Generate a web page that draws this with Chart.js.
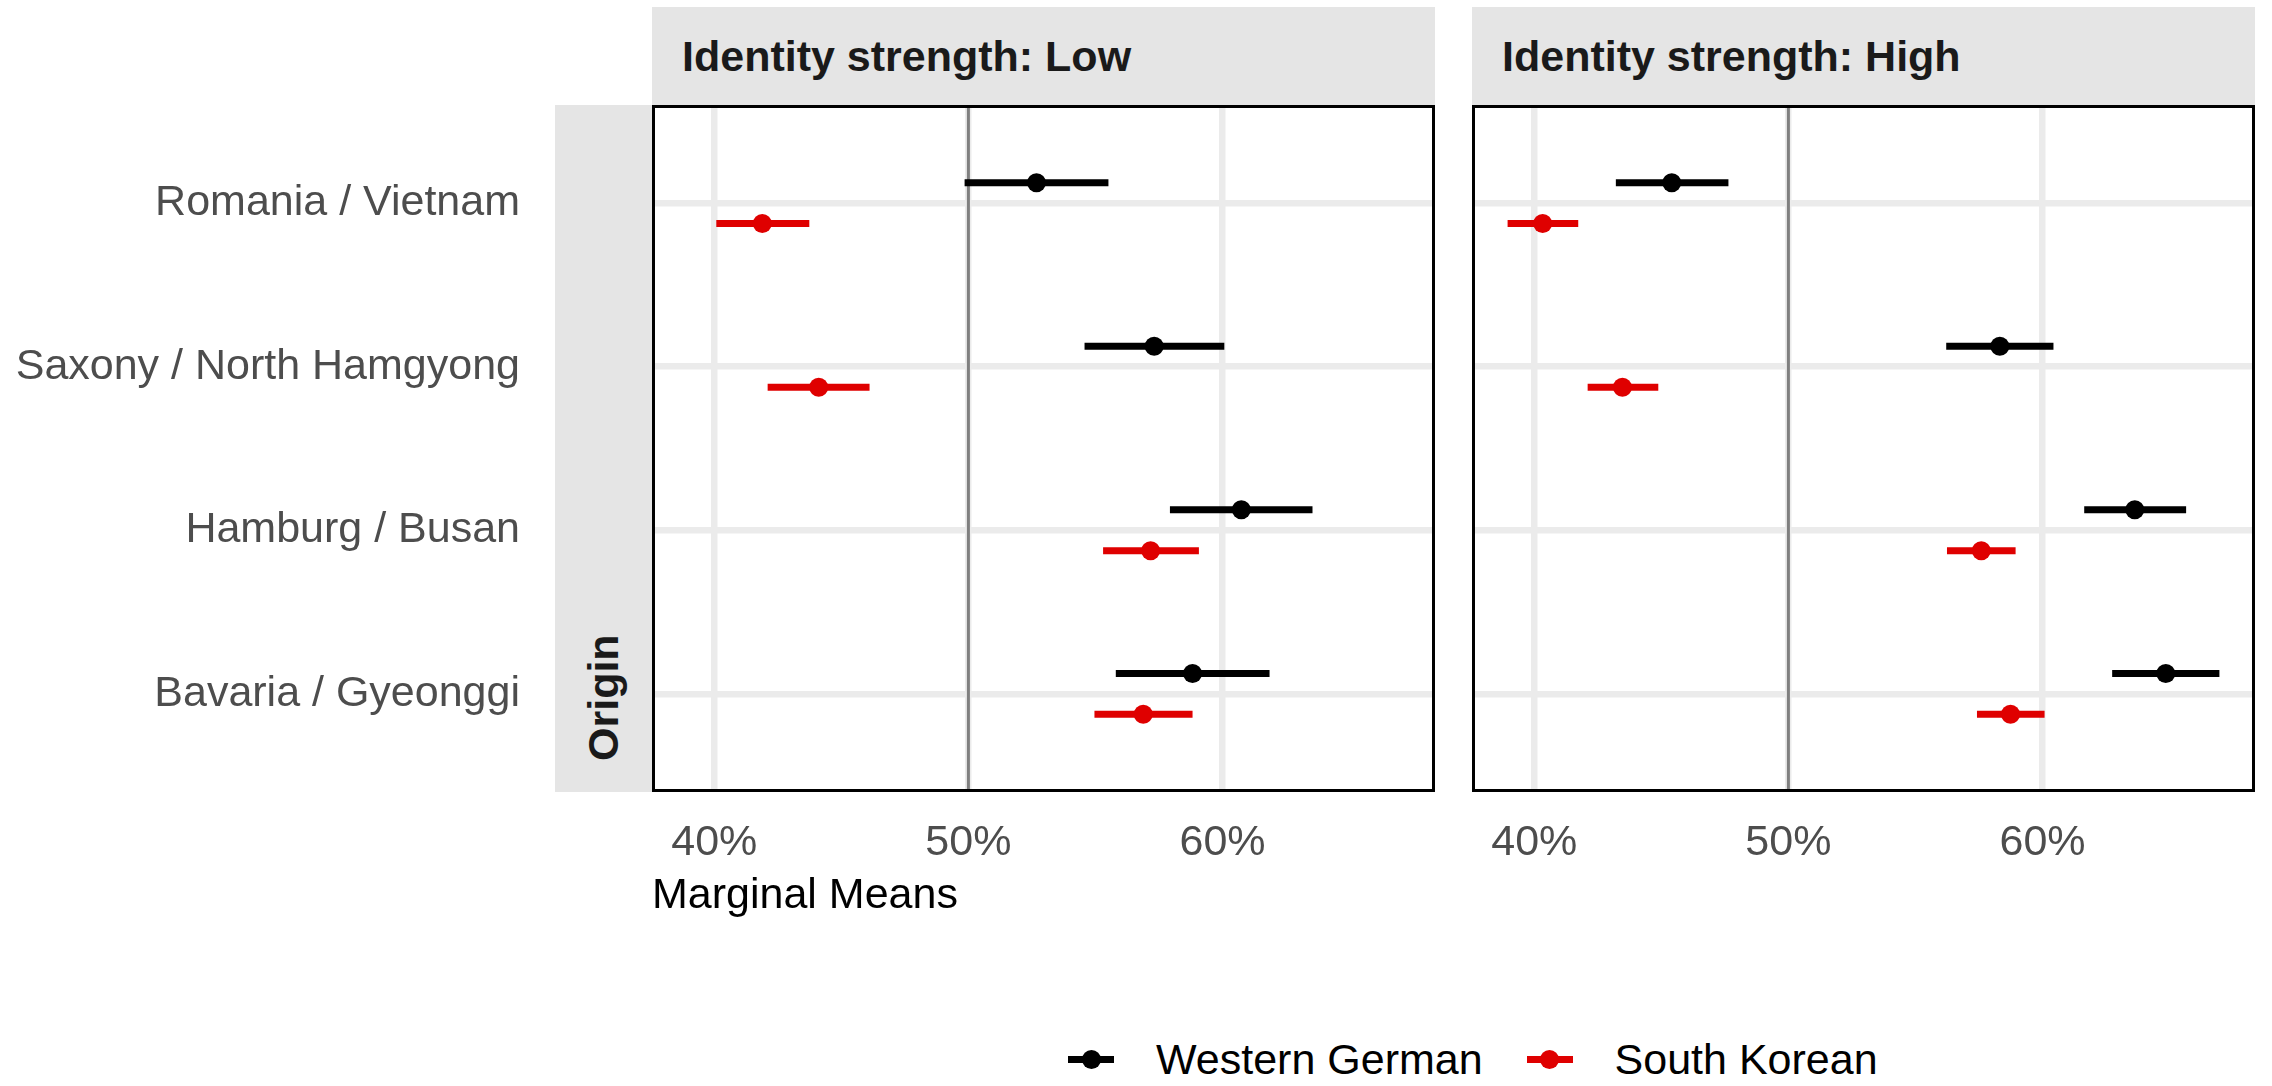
<!DOCTYPE html>
<html lang="en">
<head>
    <meta charset="UTF-8">
    <title>Marginal Means by Origin</title>
    <script src="https://cdn.jsdelivr.net/npm/chart.js@4.4.1/dist/chart.umd.min.js"></script>
    <style>
        * {
            margin: 0;
            padding: 0;
            box-sizing: border-box;
        }

        body {
            width: 2272px;
            height: 1086px;
            background: #fff;
            position: relative;
            overflow: hidden;
            font-family: 'Liberation Sans', Arial, sans-serif;
        }

        canvas {
            position: absolute;
            top: 105px;
        }

        #lowChart { left: 0; }
        #highChart { left: 1440px; }

        .strip {
            position: absolute;
            top: 7px;
            width: 783px;
            height: 98px;
            background: #e5e5e5;
            color: #1a1a1a;
            font-weight: bold;
            font-size: 43px;
            display: flex;
            align-items: center;
            padding-left: 30px;
        }

        .origin {
            position: absolute;
            left: 555px;
            top: 105px;
            width: 97px;
            height: 687px;
            background: #e5e5e5;
            color: #1a1a1a;
            font-weight: bold;
            font-size: 43px;
            writing-mode: vertical-rl;
            transform: rotate(180deg);
            display: flex;
            align-items: center;
            justify-content: flex-start;
            padding-top: 31px;
        }

        .legend {
            position: absolute;
            left: 1068px;
            top: 1034px;
            height: 50px;
            display: flex;
            align-items: center;
            font-size: 43px;
            color: #000;
        }

        .legend .key {
            position: relative;
            width: 46px;
            height: 19px;
            margin-right: 42px;
        }

        .legend .key::before {
            content: '';
            position: absolute;
            left: 0;
            right: 0;
            top: 6px;
            height: 7px;
            background: var(--c);
        }

        .legend .key::after {
            content: '';
            position: absolute;
            left: 13.5px;
            top: 0;
            width: 19px;
            height: 19px;
            border-radius: 50%;
            background: var(--c);
        }

        .legend .item {
            display: flex;
            align-items: center;
            margin-right: 44px;
        }
    </style>
</head>
<body>
    <div class="strip" style="left: 652px;">Identity strength: Low</div>
    <div class="strip" style="left: 1472px;">Identity strength: High</div>
    <div class="origin">Origin</div>

    <canvas id="lowChart" width="1440" height="827" style="width:1440px;height:827px"></canvas>
    <canvas id="highChart" width="832" height="827" style="width:832px;height:827px"></canvas>

    <div class="legend">
        <div class="item"><span class="key" style="--c:#000"></span><span>Western German</span></div>
        <div class="item"><span class="key" style="--c:#df0000"></span><span>South Korean</span></div>
    </div>

    <script>
        // Categories, top to bottom
        const origins = ['Romania / Vietnam', 'Saxony / North Hamgyong', 'Hamburg / Busan', 'Bavaria / Gyeonggi'];
        const xTicks = [40, 50, 60];
        const refValue = 50;

        // Identity strength: Low
        const lowWestEst = [52.68, 57.31, 60.74, 58.82];
        const lowWestLo  = [49.85, 54.57, 57.93, 55.80];
        const lowWestHi  = [55.51, 60.07, 63.54, 61.85];
        const lowKorEst  = [41.89, 44.11, 57.17, 56.88];
        const lowKorLo   = [40.08, 42.10, 55.30, 54.96];
        const lowKorHi   = [43.74, 46.11, 59.07, 58.82];

        // Identity strength: High
        const highWestEst = [45.41, 58.32, 63.63, 64.85];
        const highWestLo  = [43.21, 56.21, 61.64, 62.74];
        const highWestHi  = [47.64, 60.43, 65.65, 66.96];
        const highKorEst  = [40.33, 43.47, 57.59, 58.74];
        const highKorLo   = [38.95, 42.10, 56.24, 57.42];
        const highKorHi   = [41.73, 44.88, 58.94, 60.08];

        const FONT = "'Liberation Sans', Arial, sans-serif";
        const RED = '#df0000';
        const DODGE = 0.125;

        // x limits like ggplot: data range plus 5% each side
        const allVals = [].concat(lowWestLo, lowWestHi, lowKorLo, lowKorHi, highWestLo, highWestHi, highKorLo, highKorHi);
        const dMin = Math.min(...allVals), dMax = Math.max(...allVals);
        const xMin = dMin - 0.05 * (dMax - dMin);
        const xMax = dMax + 0.05 * (dMax - dMin);
        const yMin = 0.4, yMax = origins.length + 0.6;

        const rowPos = i => origins.length - i;

        function seriesSets(est, lo, hi, color, dodge) {
            const bars = [];
            origins.forEach((o, i) => {
                const y = rowPos(i) + dodge;
                bars.push({x: lo[i], y: y}, {x: hi[i], y: y}, {x: hi[i], y: null});
            });
            return [
                {type: 'line', data: bars, borderColor: color, borderWidth: 7, pointRadius: 0, spanGaps: false, order: 2},
                {type: 'scatter', data: est.map((v, i) => ({x: v, y: rowPos(i) + dodge})),
                 backgroundColor: color, borderWidth: 0, pointRadius: 9.5, order: 1}
            ];
        }

        // panel border on top of everything
        const panelBorder = {
            id: 'panelBorder',
            afterDraw(chart) {
                const a = chart.chartArea, ctx = chart.ctx;
                ctx.save();
                ctx.strokeStyle = '#000';
                ctx.lineWidth = 3;
                ctx.strokeRect(a.left + 1.5, a.top + 1.5, a.width - 3, a.height - 3);
                ctx.restore();
            }
        };

        function makePanel(id, sets, showLabels, yWidth, padRight) {
            new Chart(document.getElementById(id), {
                type: 'scatter',
                data: {
                    datasets: [
                        {type: 'line', data: [{x: refValue, y: yMin}, {x: refValue, y: yMax}],
                         borderColor: '#7f7f7f', borderWidth: 3, pointRadius: 0, order: 3},
                        ...sets
                    ]
                },
                options: {
                    responsive: false,
                    animation: false,
                    events: [],
                    layout: {autoPadding: false, padding: {top: 0, left: 0, bottom: 0, right: padRight}},
                    plugins: {legend: {display: false}, tooltip: {enabled: false}},
                    scales: {
                        x: {
                            type: 'linear', min: xMin, max: xMax,
                            afterBuildTicks: s => { s.ticks = xTicks.map(v => ({value: v})); },
                            afterFit: s => { s.height = 140; s.paddingLeft = 0; s.paddingRight = 0; },
                            grid: {color: '#ebebeb', lineWidth: 6.5, drawTicks: false},
                            border: {display: false},
                            ticks: {callback: v => v + '%', color: '#4d4d4d', font: {family: FONT, size: 43}, padding: 25, maxRotation: 0},
                            title: {display: showLabels, text: 'Marginal Means', align: 'start', color: '#000',
                                    font: {family: FONT, size: 43}, padding: {top: 0, bottom: 10}}
                        },
                        y: {
                            type: 'linear', min: yMin, max: yMax,
                            afterBuildTicks: s => { s.ticks = origins.map((o, i) => ({value: rowPos(i)})); },
                            afterFit: s => { s.width = yWidth; s.paddingTop = 0; s.paddingBottom = 0; },
                            grid: {color: '#ebebeb', lineWidth: 6.5, drawTicks: false},
                            border: {display: false},
                            ticks: {display: showLabels, callback: v => origins[origins.length - v] || '',
                                    color: '#4d4d4d', font: {family: FONT, size: 43}, padding: 132}
                        }
                    }
                },
                plugins: [panelBorder]
            });
        }

        makePanel('lowChart', [
            ...seriesSets(lowKorEst, lowKorLo, lowKorHi, RED, -DODGE),
            ...seriesSets(lowWestEst, lowWestLo, lowWestHi, '#000', DODGE)
        ], true, 652, 5);

        makePanel('highChart', [
            ...seriesSets(highKorEst, highKorLo, highKorHi, RED, -DODGE),
            ...seriesSets(highWestEst, highWestLo, highWestHi, '#000', DODGE)
        ], false, 32, 17);
    </script>
</body>
</html>
